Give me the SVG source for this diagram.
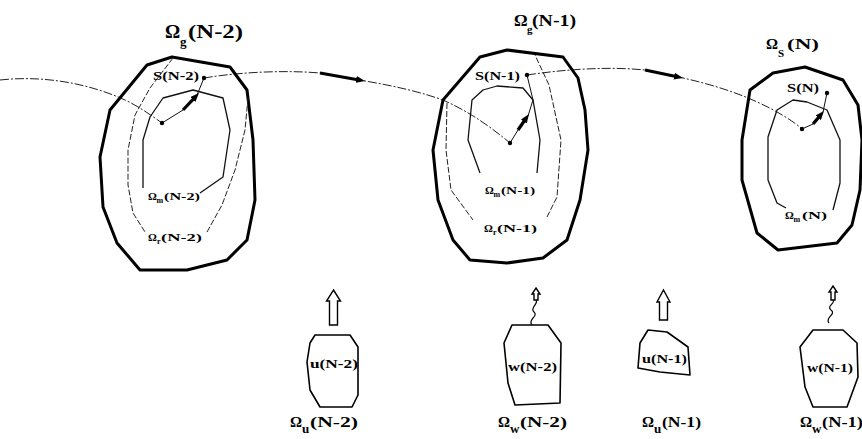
<svg xmlns="http://www.w3.org/2000/svg" width="862" height="439" viewBox="0 0 862 439">
<style>
.outer{fill:none;stroke:#000;stroke-width:3;stroke-linejoin:round}
.rset{fill:none;stroke:#222;stroke-width:1;stroke-dasharray:6 2}
.mset{fill:none;stroke:#111;stroke-width:1.3;stroke-linejoin:round}
.traj{fill:none;stroke:#222;stroke-width:1;stroke-dasharray:9 2 2 2}
.thin{fill:none;stroke:#111;stroke-width:1}
.bold{fill:none;stroke:#000;stroke-width:3.2;marker-end:url(#ah)}
.dot{fill:#000}
.box{fill:#fff;stroke:#000;stroke-width:1.6;stroke-linejoin:round}
.hollow{fill:#fff;stroke:#000;stroke-width:1.4;stroke-linejoin:miter}
.squig{fill:none;stroke:#000;stroke-width:1.2}
text{font-family:"Liberation Serif","Times New Roman",serif;font-weight:bold;fill:#000}
.big{font-size:19px}
.top2{font-size:17px}
.mid{font-size:15px}
.sm{font-size:13px}
.xs{font-size:11px}
.sub{font-size:13px}
.subs{font-size:8px}
</style>
<defs>
<marker id="ah" markerUnits="userSpaceOnUse" markerWidth="9" markerHeight="7" refX="3" refY="3.5" orient="auto">
<path d="M0,0 L9,3.5 L0,7 Z" fill="#000"/>
</marker>
</defs>

<g id="connectors">
<path class="traj" d="M0,80 C45,75 90,84 125,100 C140,107 152,116 162,123"/>
<path class="traj" d="M204,78 C240,72 285,70 320,73 L365,81 C395,86 425,93 445,101 C470,112 492,128 510,143"/>
<path class="traj" d="M527,75 C560,70 605,66 645,70 L683,78 C710,84 735,92 755,101 C775,110 792,120 802,129"/>
<line class="bold" x1="320" y1="73" x2="359.1" y2="80"/>
<line class="bold" x1="645" y1="70" x2="677.1" y2="76.8"/>
</g>

<g id="omega-s-N-2">
<polygon class="outer" points="172,57 147,65 110,110 100,157 103,207 117,243 140,270 187,270 227,260 247,240 255,200 253,140 247,90 230,67"/>
<polyline class="rset" points="173,58 150,88 135,115 128,150 128,185 133,213 145,232"/>
<polyline class="rset" points="207,232 222,205 235,170 245,130 248,98"/>
<polyline class="mset" points="143,188 143,140 150,117 163,98 193,90 223,98 230,130 223,177 200,193"/>
<polyline class="thin" points="162,123 183,110"/>
<polyline class="thin" points="197,95 204,78"/>
<line class="bold" x1="183" y1="110" x2="194.9" y2="97.4"/>
<circle class="dot" cx="162" cy="123" r="2.2"/>
<circle class="dot" cx="204" cy="78" r="2.2"/>
<text class="sm" x="153" y="80" textLength="46" lengthAdjust="spacingAndGlyphs">S(N-2)</text>
<text class="xs" x="148" y="200">Ω</text><text class="subs" x="156.5" y="203">m</text><text class="xs" x="164" y="200" textLength="36" lengthAdjust="spacingAndGlyphs">(N-2)</text>
<text class="xs" x="148" y="241">Ω</text><text class="subs" x="157" y="244">r</text><text class="xs" x="161" y="241" textLength="41" lengthAdjust="spacingAndGlyphs">(N-2)</text>
<text class="big" x="165" y="38">Ω</text><text class="sub" x="180" y="46">g</text><text class="big" x="188" y="38" textLength="55" lengthAdjust="spacingAndGlyphs">(N-2)</text>
</g>

<g id="omega-s-N-1">
<polygon class="outer" points="507,50 480,57 443,100 433,150 438,200 453,240 470,260 507,263 543,258 567,240 580,200 588,150 585,110 578,78 563,57"/>
<polyline class="rset" points="447,103 446,150 451,190 473,220"/>
<polyline class="rset" points="547,217 557,197 561,140 549,85 535,55"/>
<polyline class="mset" points="480,173 468,140 472,100 483,90 497,86 523,88 533,100 540,140 537,173"/>
<polyline class="thin" points="510,143 518,130"/>
<polyline class="thin" points="528,116 533,100 527,75"/>
<line class="bold" x1="518" y1="130" x2="525.6" y2="119"/>
<circle class="dot" cx="510" cy="143" r="2.2"/>
<circle class="dot" cx="527" cy="75" r="2.2"/>
<text class="sm" x="475" y="80" textLength="45" lengthAdjust="spacingAndGlyphs">S(N-1)</text>
<text class="xs" x="485" y="194">Ω</text><text class="subs" x="493.5" y="197">m</text><text class="xs" x="501" y="194" textLength="34" lengthAdjust="spacingAndGlyphs">(N-1)</text>
<text class="xs" x="484" y="232">Ω</text><text class="subs" x="493" y="235">r</text><text class="xs" x="497" y="232" textLength="40" lengthAdjust="spacingAndGlyphs">(N-1)</text>
<text class="top2" x="514" y="26">Ω</text><text class="xs" x="527" y="33">g</text><text class="top2" x="532" y="26" textLength="44" lengthAdjust="spacingAndGlyphs">(N-1)</text>
</g>

<g id="omega-s-N">
<polygon class="outer" points="805,67 773,73 750,90 742,140 742,180 757,233 778,250 837,243 852,225 860,190 862,140 858,105 843,80"/>
<polyline class="mset" points="833,210 840,183 840,140 827,110 807,102 793,100 777,110 768,137 768,180 777,203 786,208"/>
<polyline class="thin" points="802,129 813,124"/>
<polyline class="thin" points="823,112 827,93"/>
<line class="bold" x1="813" y1="124" x2="820.1" y2="115.6"/>
<circle class="dot" cx="802" cy="129" r="2.2"/>
<circle class="dot" cx="827" cy="93" r="2.2"/>
<text class="sm" x="787" y="92" textLength="32" lengthAdjust="spacingAndGlyphs">S(N)</text>
<text class="xs" x="785" y="219">Ω</text><text class="subs" x="793.5" y="222">m</text><text class="xs" x="802" y="219" textLength="25" lengthAdjust="spacingAndGlyphs">(N)</text>
<text class="mid" x="766" y="49">Ω</text><text class="xs" x="778" y="57">S</text><text class="mid" x="787" y="49" textLength="32" lengthAdjust="spacingAndGlyphs">(N)</text>
</g>

<g id="omega-u-N-2">
<path class="hollow" d="M333.5,290 L340.5,301 L337.5,301 L337.5,325 L329.5,325 L329.5,301 L326.5,301 Z"/>
<polygon class="box" points="315,335 350,335 358,347 358,395 352,407 320,407 310,390 307,362 310,343"/>
<text class="sm" x="310" y="368" textLength="48" lengthAdjust="spacingAndGlyphs">u(N-2)</text>
<text class="mid" x="290" y="427">Ω</text><text class="sub" x="302" y="433">u</text><text class="mid" x="310" y="427" textLength="48" lengthAdjust="spacingAndGlyphs">(N-2)</text>
</g>

<g id="omega-w-N-2">
<path class="squig" d="M532,325 C527,320 539,316 534,312 C529,308 539,304 536,300"/>
<path class="hollow" d="M536,288 L540,294 L538,294 L538,300 L534,300 L534,294 L532,294 Z"/>
<polygon class="box" points="512,325 548,325 561,343 560,403 515,405 508,383 504,343"/>
<text class="sm" x="508" y="371" textLength="49" lengthAdjust="spacingAndGlyphs">w(N-2)</text>
<text class="mid" x="498" y="427">Ω</text><text class="sub" x="510" y="433">w</text><text class="mid" x="520" y="427" textLength="47" lengthAdjust="spacingAndGlyphs">(N-2)</text>
</g>

<g id="omega-u-N-1">
<path class="hollow" d="M663.5,290 L670,302 L667.5,302 L667.5,320 L659.5,320 L659.5,302 L657,302 Z"/>
<polygon class="box" points="648,330 667,332 688,347 690,375 660,372 638,368 640,343"/>
<text class="sm" x="642" y="363" textLength="45" lengthAdjust="spacingAndGlyphs">u(N-1)</text>
<text class="mid" x="642" y="427">Ω</text><text class="sub" x="654" y="433">u</text><text class="mid" x="662" y="427" textLength="39" lengthAdjust="spacingAndGlyphs">(N-1)</text>
</g>

<g id="omega-w-N-1">
<path class="squig" d="M829,323 C824,318 837,314 831,310 C826,306 836,303 833,300"/>
<path class="hollow" d="M833,286 L837,292 L835,292 L835,300 L831,300 L831,292 L829,292 Z"/>
<polygon class="box" points="813,330 843,330 857,343 858,377 847,407 813,407 805,387 800,347"/>
<text class="sm" x="807" y="372" textLength="46" lengthAdjust="spacingAndGlyphs">w(N-1)</text>
<text class="mid" x="800" y="427">Ω</text><text class="sub" x="812" y="433">w</text><text class="mid" x="822" y="427" textLength="41" lengthAdjust="spacingAndGlyphs">(N-1)</text>
</g>
</svg>
